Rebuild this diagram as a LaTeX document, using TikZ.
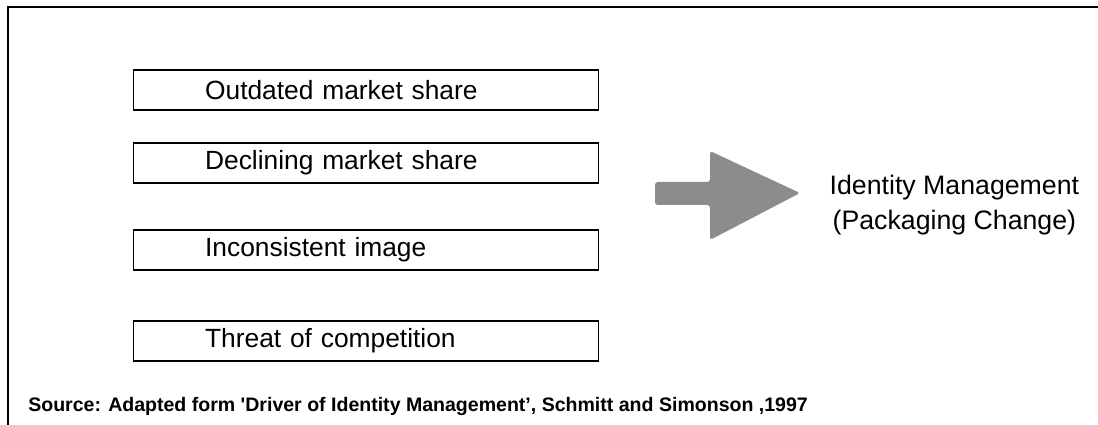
\documentclass[tikz,border=0pt]{standalone}
\usepackage{fontspec}
\setmainfont{Liberation Sans}
\usepackage{tikz}
\usetikzlibrary{calc}
\tikzset{
	drvbox/.style={draw, line width=0.8pt, minimum height=1.0cm, text width=11.625cm, inner xsep=0pt, align=left, font=\fontsize{18.75}{22}\selectfont, execute at begin node=\hspace*{1.8cm}},
}

\begin{document}
\begin{tikzpicture}
		%%%%% START %%%%%
		\useasboundingbox (0, 0) rectangle (27.45, 10.625);
		\draw[line width=1.3pt] (0.2, 0) -- (0.2, 10.45) -- (27.45, 10.45);
		
		\node[drvbox] (drv1) at (9.14, 8.375) {Outdated market share};
		\node[drvbox] (drv2) at (9.14, 6.55) {Declining market share};
		\node[drvbox] (drv3) at (9.14, 4.375) {Inconsistent image};
		\node[drvbox] (drv4) at (9.14, 2.1) {Threat of competition};
		
		\fill[black!45, rounded corners=2pt] (16.375, 6.075) -- (17.75, 6.075) -- (17.75, 6.85) -- (20.0, 5.8) -- (17.75, 4.625) -- (17.75, 5.5) -- (16.375, 5.5) -- cycle;
		
		\node[align=center, font=\fontsize{19}{24.9}\selectfont] (idm) at (23.86, 5.5) {Identity Management\\ (Packaging Change)};
		
		\node[anchor=base west, inner sep=0pt, font=\bfseries\fontsize{13.9}{16}\selectfont] (src) at (0.7, 0.325) {Source: Adapted form \textquotesingle Driver of Identity Management', Schmitt and Simonson ,1997};
		%%%%% END %%%%%
	\end{tikzpicture}
\end{document}
